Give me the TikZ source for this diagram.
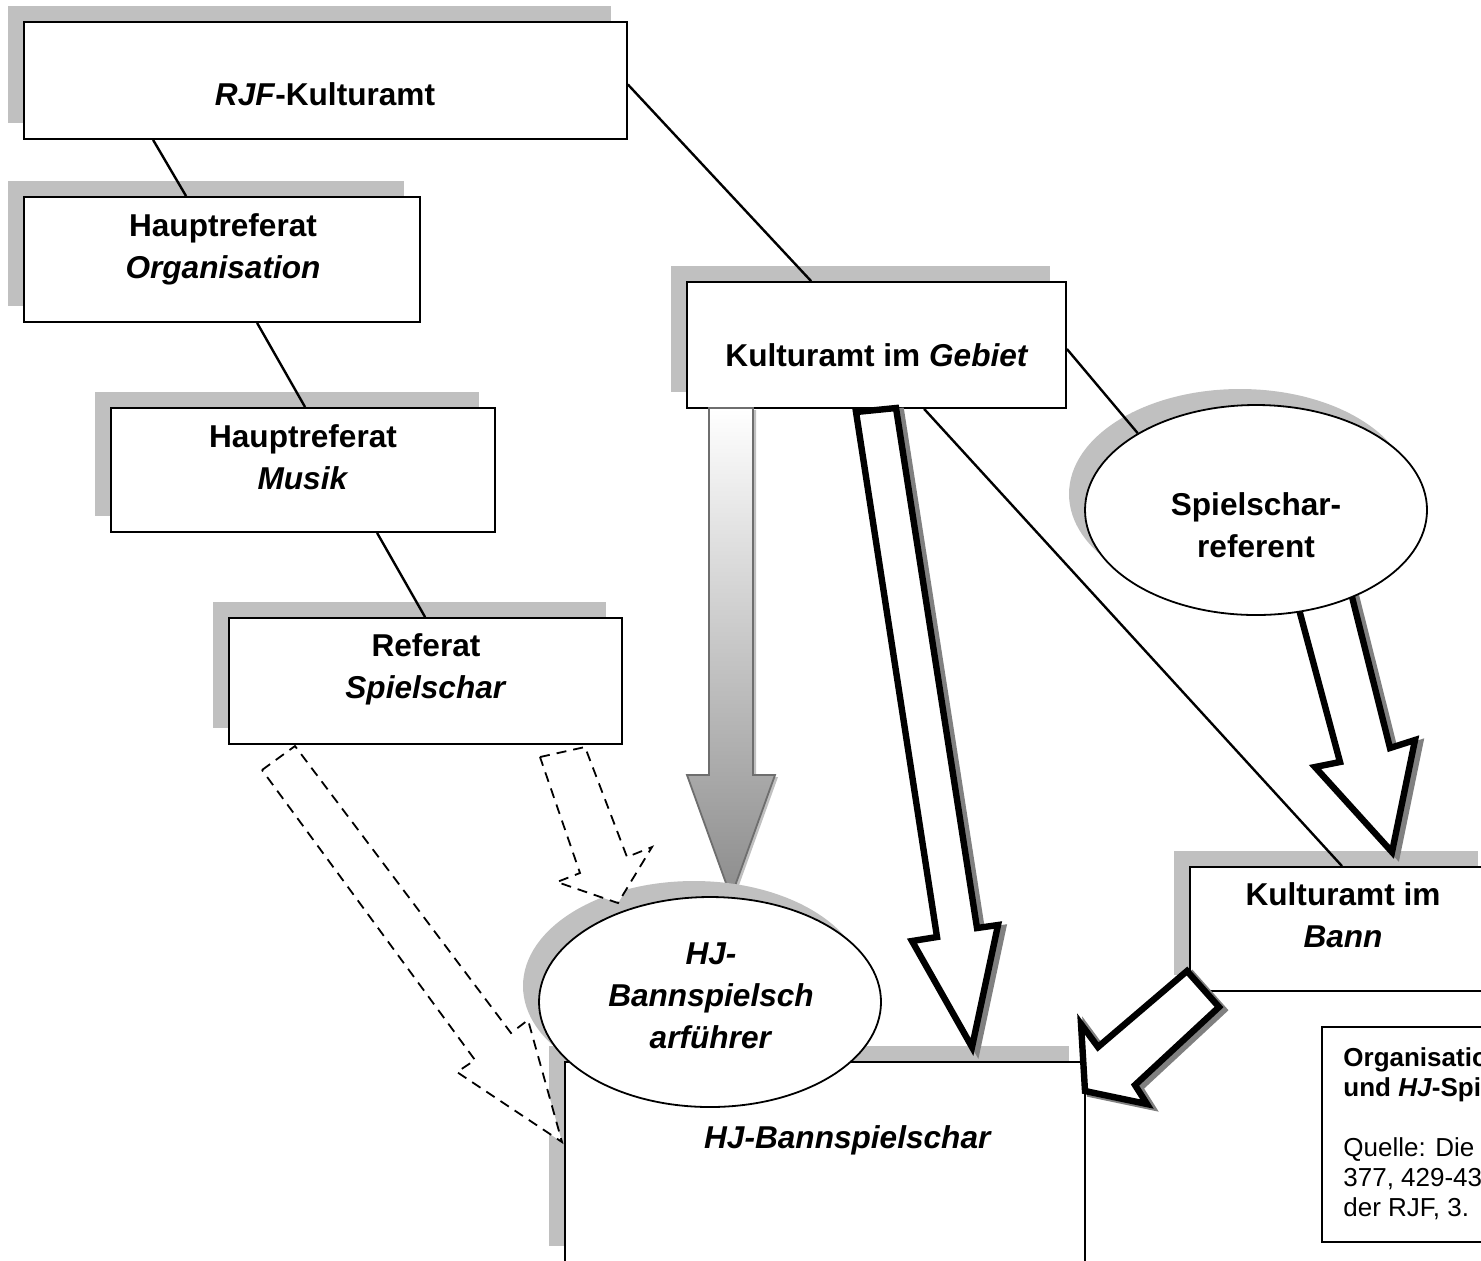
\documentclass[tikz,border=0pt]{standalone}
\usepackage{fontspec}
\setmainfont{Liberation Sans}
\usetikzlibrary{shadows, shapes.geometric}
\definecolor{ShadowGray}{RGB}{192,192,192}
\definecolor{ArrowShadow}{RGB}{128,128,128}
\definecolor{ArrowGray}{RGB}{140,140,140}
\definecolor{ArrowEdge}{RGB}{110,110,110}

\begin{document}
\begin{tikzpicture}[x=0.5pt, y=-0.5pt,
    box/.style={draw, fill=white, line width=0.9pt, inner sep=0pt,
      drop shadow={opacity=1, fill=ShadowGray, shadow xshift=-8pt, shadow yshift=8pt}},
    oval/.style={box, ellipse, minimum width=171pt, minimum height=105pt},
    lbl/.style={font=\fontsize{15.8}{21}\selectfont\bfseries, align=center, inner sep=0pt},
    conn/.style={line width=1.2pt},
    fatarrow/.style={draw, fill=white, line width=3.2pt, line join=miter,
      drop shadow={opacity=1, fill=ArrowShadow, draw=ArrowShadow, line width=3.2pt,
        shadow xshift=2.5pt, shadow yshift=-1.5pt}},
    dasharrow/.style={draw, fill=white, line width=0.9pt, dash pattern=on 5pt off 3.5pt}]

    \path[use as bounding box] (0,0) rectangle (1481,1260);
    \clip (0,0) rectangle (1481,1260);

    % Boxes with shadows
    \node[box, minimum width=301.5pt, minimum height=58.5pt] (rjf) at (325.5,80.5) {};
    \node[box, minimum width=198pt, minimum height=62.5pt] (hptorg) at (222,259.5) {};
    \node[box, minimum width=192pt, minimum height=62pt] (hptmus) at (303,470) {};
    \node[box, minimum width=196.5pt, minimum height=63pt] (refsp) at (425.5,681) {};
    \node[box, minimum width=189.5pt, minimum height=63pt] (gebiet) at (876.5,345) {};
    \node[box, minimum width=152pt, minimum height=62pt] (bann) at (1342,929) {};
    \node[box, minimum width=260pt, minimum height=100pt] (hjbsch) at (825,1162) {};
    \node[draw, fill=white, line width=0.9pt, inner sep=0pt,
          minimum width=94pt, minimum height=107.5pt] (quelle) at (1416,1134.5) {};

    % Connections
    \draw[conn] ([xshift=65pt]rjf.south west) -- ([xshift=81.5pt]hptorg.north west);
    \draw[conn] ([xshift=117pt]hptorg.south west) -- ([xshift=97.5pt]hptmus.north west);
    \draw[conn] ([xshift=133.5pt]hptmus.south west) -- ([xshift=98.5pt]refsp.north west);
    \draw[conn] ([yshift=-2pt]rjf.east) -- ([xshift=62.5pt]gebiet.north west);
    \draw[conn] ([xshift=119pt]gebiet.south west) -- (bann.north);

    % Block arrows
    \shade[top color=white, bottom color=ArrowGray, draw=ArrowEdge, line width=0.9pt,
           drop shadow={opacity=1, fill=ShadowGray, shadow xshift=1.5pt, shadow yshift=-1pt}]
        (709,408) -- (753,408) -- (753,775) -- (775,775) -- (731,897) -- (687,775) -- (709,775) -- cycle;
    \draw[fatarrow] (856,412) -- (896,408) -- (977,928) -- (998,925) -- (972,1047)
        -- (912,941) -- (937,937) -- cycle;
    \draw[fatarrow] (1293,587) -- (1346,573) -- (1390,748) -- (1415,740) -- (1392,852)
        -- (1315,767) -- (1340,762) -- cycle;
    \draw[fatarrow] (1187,971) -- (1098,1047) -- (1081,1024) -- (1085,1091) -- (1147,1104)
        -- (1135,1085) -- (1219,1007) -- cycle;

    % Ellipses
    \node[oval] (spref) at (1256,510) {};
    \node[oval] (bfuehrer) at (710,1002) {};
    \draw[conn] ([yshift=-2pt]gebiet.east) -- (spref.147.5);

    % Dashed arrows
    \draw[dasharrow] (262,770) -- (295,746) -- (511,1033) -- (528,1020) -- (562,1142)
        -- (457,1072) -- (475,1060) -- cycle;
    \draw[dasharrow] (540,757) -- (585,747) -- (627,857) -- (652,847) -- (618,903)
        -- (557,882) -- (580,873) -- cycle;

    % Labels
    \node[lbl] (rjftxt) at (325,94) {\textit{RJF}-Kulturamt};
    \node[lbl] (orgtxt) at (223,249) {Hauptreferat\\\textit{Organisation}};
    \node[lbl] (mustxt) at (303,457) {Hauptreferat\\\textit{Musik}};
    \node[lbl] (spieltxt) at (426,669) {Referat\\\textit{Spielschar}};
    \node[lbl] (gebtxt) at (877,355) {Kulturamt im \textit{Gebiet}};
    \node[lbl] (banntxt) at (1343,915) {Kulturamt im\\\textit{Bann}};
    \node[lbl] (hjtxt) at (848,1140) {\textit{HJ-Bannspielschar}};
    \node[lbl] (sptxt) at (1256,525) {Spielschar-\\referent};
    \node[lbl] (bftxt) at (711,996) {\textit{HJ-}\\\textit{Bannspielsch}\\\textit{arführer}};
    \node[font=\fontsize{13}{15}\selectfont, align=left, anchor=north west, inner sep=0pt]
        (quelletxt) at (1343,1047) {\textbf{Organisation}\\\textbf{und \textit{HJ}-Spi}\\[15pt]
        Quelle: Die\\377, 429-43\\der RJF, 3.};
\end{tikzpicture}
\end{document}
